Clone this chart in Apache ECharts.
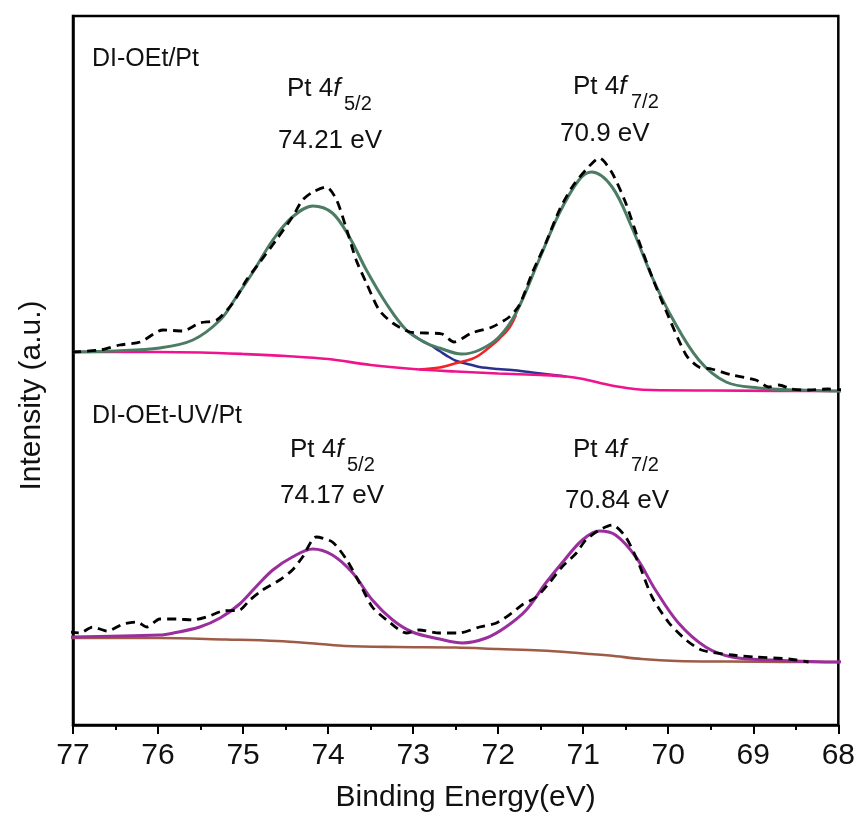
<!DOCTYPE html>
<html>
<head>
<meta charset="utf-8">
<script src="https://cdn.jsdelivr.net/npm/echarts@6/dist/echarts.min.js"></script>
<style>
html,body{margin:0;padding:0;background:#fff;}
#chart{width:858px;height:825px;}
</style>
</head>
<body>
<div id="chart"></div>
<script>
// ---------- Data (Binding energy in eV, intensity in a.u.) ----------
const xTicks = [77, 76, 75, 74, 73, 72, 71, 70, 69, 68];

// Top sample: DI-OEt/Pt
const topRawE = [77.01,76.68,76.45,76.21,75.94,75.71,75.51,75.31,75.12,74.96,74.81,74.61,74.42,74.30,74.18,74.02,73.90,73.78,73.67,73.55,73.40,73.24,73.04,72.85,72.66,72.52,72.31,72.07,71.87,71.75,71.60,71.44,71.28,71.13,70.97,70.81,70.66,70.50,70.35,70.19,70.03,69.79,69.64,69.49,69.25,68.97,68.82,68.70,68.55,68.35,68.12,67.92];
const topRawI = [373,375,380,383,395,394,402,405,422,445,462,485,508,525,533,538,525,495,465,442,415,402,393,392,391,383,392,398,408,420,452,482,515,538,555,567,552,522,485,448,415,370,358,356,350,345,338,340,336,335,336,335];

const topFitE = [77.0,76.5,75.98,75.59,75.27,75.08,74.89,74.65,74.42,74.18,73.95,73.75,73.55,73.32,73.08,72.85,72.69,72.43,72.22,71.99,71.79,71.52,71.28,71.05,70.90,70.66,70.43,70.19,69.96,69.64,69.32,68.94,68.47,68.0,67.92];
const topFitI = [373,374,377,385,405,428,452,485,508,519,512,488,455,422,395,382,377,371,375,388,412,465,512,545,553,538,498,448,408,365,343,337,335,334,334];

const topBgE = [77.0,76.5,76.0,75.5,75.0,74.5,74.0,73.5,73.0,72.5,72.0,71.5,71.2,71.0,70.8,70.6,70.4,70.2,69.5,68.0,67.92];
const topBgI = [373,373,373,372.5,371,369,366,360,356,353.5,351.5,350,348.5,346,342,338.5,336,335,334.5,334,334];

const topP1E = [73.08,72.93,72.80,72.69,72.58,72.49,72.31,72.22,72.0,71.84,71.6,71.4,71.2];
const topP1I = [395,386,380,374,368,364,360,358,356,355,352.5,350.5,348.5];

const topP2E = [72.93,72.69,72.49,72.31,72.22,72.07,71.99,71.87,71.79];
const topP2I = [355.5,357.5,362,366,370,380,386,397,410];

// Bottom sample: DI-OEt-UV/Pt
const botRawE = [77.04,76.92,76.77,76.60,76.41,76.25,76.13,75.98,75.78,75.59,75.43,75.24,75.04,74.92,74.77,74.57,74.42,74.30,74.14,73.95,73.78,73.63,73.48,73.31,73.08,72.93,72.69,72.46,72.22,72.02,71.84,71.72,71.55,71.40,71.25,71.08,70.97,70.81,70.66,70.50,70.35,70.19,69.99,69.79,69.61,69.25,68.97,68.58,68.35];
const botRawI = [93,92,98,94,101,103,98,106,106,105,108,114,115,125,135,145,155,168,188,183,165,142,118,105,92,95,92,92,98,102,112,120,128,142,158,172,185,195,200,188,162,128,102,85,75,70,68,66,63];

const botFitE = [77.03,75.98,75.82,75.51,75.27,75.04,74.85,74.65,74.42,74.18,73.95,73.71,73.48,73.24,73.01,72.69,72.42,72.14,71.91,71.67,71.44,71.25,71.01,70.81,70.62,70.38,70.15,69.88,69.56,69.25,68.78,68.0,67.92];
const botFitI = [88,90,92,98,107,121,138,155,168,176,170,152,125,105,93,86,82,87,98,115,142,162,185,194,190,168,135,102,78,68,65,63,64];

const botBgE = [77.03,76.0,75.2,74.6,74.1,73.8,73.2,72.5,72.0,71.5,71.06,70.69,70.31,69.9,69.3,68.0,67.92];
const botBgI = [87,87,85.5,84,81,79,78,77.5,76,74.5,72,69.5,66,64,63.5,63,63];

// Annotation texts
const sampleNames = ['DI-OEt/Pt', 'DI-OEt-UV/Pt'];
const peakEnergies = ['74.21 eV', '70.9 eV', '74.17 eV', '70.84 eV'];
const peakSubs = ['5/2', '7/2', '5/2', '7/2'];

// ---------- Chart ----------
const zip = (a, b) => a.map((v, i) => [v, b[i]]);
const FONT = 'Arial, "Liberation Sans", sans-serif';
const NARROW = '"Liberation Sans Narrow", "Arial Narrow", Arial, "Liberation Sans", sans-serif';

function fitLine(name, e, i, color, width, z) {
  return {
    name: name, type: 'line', data: zip(e, i), showSymbol: false, symbol: 'none',
    smooth: 0.35, clip: false, z: z,
    lineStyle: { color: color, width: width }
  };
}
function rawLine(name, e, i, z) {
  return {
    name: name, type: 'line', data: zip(e, i), showSymbol: false, symbol: 'none',
    smooth: 0.25, clip: false, z: z,
    lineStyle: { color: '#000', width: 2.8, type: [9, 6] }
  };
}

const chart = echarts.init(document.getElementById('chart'), null, { renderer: 'canvas' });

function peakLabel(x, y) {
  return {
    type: 'text', x: x, y: y, z: 100,
    style: {
      text: '{n|Pt 4}{i|f}',
      rich: {
        n: { fontSize: 26, fontFamily: FONT, color: '#111' },
        i: { fontSize: 26, fontFamily: FONT, fontStyle: 'italic', color: '#111' }
      },
      font: 'normal 26px ' + FONT, fill: '#111',
      textVerticalAlign: 'middle', verticalAlign: 'middle'
    }
  };
}
function plain(x, y, s, size) {
  return {
    type: 'text', x: x, y: y, z: 100,
    style: { text: s, font: 'normal ' + size + 'px ' + FONT, fill: '#111',
      textVerticalAlign: 'middle', verticalAlign: 'middle' }
  };
}

const option = {
  backgroundColor: '#fff',
  animation: false,
  grid: { left: 73, right: 18, top: 16, bottom: 100, show: true, borderColor: '#000', borderWidth: 2.5 },
  xAxis: {
    type: 'value', inverse: true, min: 68, max: 77, interval: 1,
    name: 'Binding Energy(eV)', nameLocation: 'middle', nameGap: 58,
    nameTextStyle: { fontSize: 30, fontFamily: NARROW, color: '#111', padding: [0, 0, 0, 20] },
    axisLine: { show: true, lineStyle: { color: '#000', width: 2.5 } },
    axisTick: { show: true, inside: false, length: 9, lineStyle: { color: '#000', width: 2 } },
    minorTick: { show: true, splitNumber: 2, length: 5, lineStyle: { color: '#000', width: 2 } },
    axisLabel: { fontSize: 30, fontFamily: NARROW, color: '#111', margin: 16,
      formatter: v => xTicks.includes(v) ? String(v) : '' },
    splitLine: { show: false }
  },
  yAxis: {
    type: 'value', min: 0, max: 709,
    name: 'Intensity (a.u.)', nameLocation: 'middle', nameGap: 26, nameRotate: 90,
    nameTextStyle: { fontSize: 30, fontFamily: FONT, color: '#111', padding: [0, 50, 0, 0] },
    axisLine: { show: true, lineStyle: { color: '#000', width: 2.5 } },
    axisTick: { show: false }, axisLabel: { show: false }, splitLine: { show: false }
  },
  series: [
    fitLine('Top Pt 4f5/2 component', topP1E, topP1I, '#2b2f8f', 2.5, 2),
    fitLine('Top Pt 4f7/2 component', topP2E, topP2I, '#f02424', 2.5, 2),
    fitLine('Top background', topBgE, topBgI, '#f0148c', 2.6, 3),
    fitLine('Top envelope', topFitE, topFitI, '#4c7c64', 3, 4),
    rawLine('Top raw', topRawE, topRawI, 5),
    fitLine('Bottom background', botBgE, botBgI, '#9e5c47', 2.6, 3),
    fitLine('Bottom envelope', botFitE, botFitI, '#9a2e9c', 3, 4),
    rawLine('Bottom raw', botRawE, botRawI, 5)
  ],
  graphic: [
    plain(92, 59, sampleNames[0], 25),
    peakLabel(287, 89), plain(344, 104, peakSubs[0], 20),
    plain(278, 141, peakEnergies[0], 26),
    peakLabel(573, 87), plain(631, 102, peakSubs[1], 20),
    plain(560, 134, peakEnergies[1], 26),
    plain(92, 416, sampleNames[1], 25),
    peakLabel(290, 450), plain(347, 465, peakSubs[2], 20),
    plain(280, 496, peakEnergies[2], 26),
    peakLabel(573, 450), plain(631, 465, peakSubs[3], 20),
    plain(565, 501, peakEnergies[3], 26)
  ]
};
chart.setOption(option);
</script>
</body>
</html>
